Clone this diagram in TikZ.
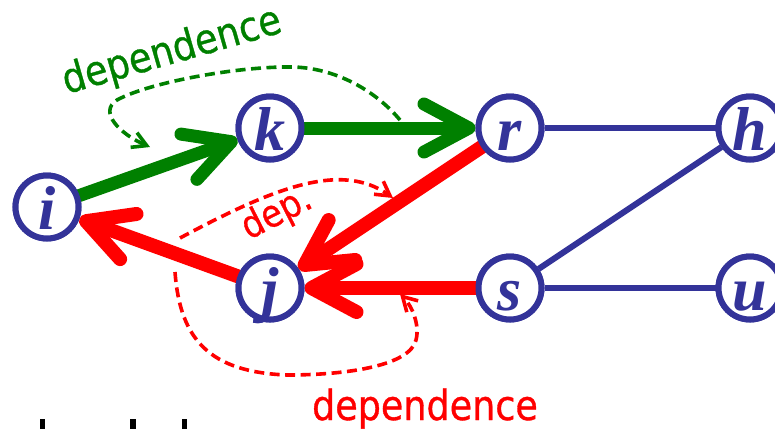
\documentclass[tikz,border=0pt]{standalone}
\usepackage{fontspec}
\setmainfont{Liberation Serif}
\newfontfamily\lblfont{DejaVu Sans}[FakeStretch=0.88, FakeBold=0.8]
\usetikzlibrary{arrows.meta}
\definecolor{nodeblue}{HTML}{333399}
\definecolor{depgreen}{HTML}{008000}
\definecolor{depred}{HTML}{FF0000}
\begin{document}
\begin{tikzpicture}[x=1pt,y=-1pt,
  vertex/.style={circle, draw=nodeblue, line width=6pt, fill=white,
    minimum size=63pt, inner sep=0pt, text=nodeblue,
    text height=45pt, text depth=0pt,
    font=\fontsize{62}{62}\selectfont\bfseries\itshape},
  link/.style={draw=nodeblue, line width=6pt},
  bigarrow/.style={line cap=round, line join=round,
    -{Straight Barb[round, length=45pt, width=48pt]}},
  greenarrow/.style={bigarrow, draw=depgreen, line width=13pt},
  redarrow/.style={bigarrow, draw=depred, line width=14pt},
  deparrow/.style={line width=3.6pt, dash pattern=on 10pt off 5.5pt,
    -{Straight Barb[length=14pt, width=16pt]}},
  deplabel/.style={font=\lblfont\fontsize{41.5}{41.5}\selectfont},
  stub/.style={fill=black}
]
\path[use as bounding box] (0,0) rectangle (775,429);
\clip (0,0) rectangle (775,429);

% vertices
\node[vertex] (i) at (47,207) {i};
\node[vertex] (k) at (270,128) {k};
\node[vertex] (r) at (510,128) {r};
\node[vertex] (h) at (750,128) {h};
\node[vertex] (j) at (270,288) {j};
\node[vertex] (s) at (510,288) {s};
\node[vertex] (u) at (750,288) {u};

% plain edges
\draw[link] (r) -- (h);
\draw[link] (s) -- (h);
\draw[link] (s) -- (u);

% forward path i -> k -> r
\draw[greenarrow] (i) -- (k);
\draw[greenarrow] (k) -- (r);

% backward path r -> j, s -> j, j -> i
\draw[redarrow] (r) -- (j);
\draw[redarrow] (s) -- (j);
\draw[redarrow] (j) -- (i);

% redraw vertices on top of the edges
\node[vertex] at (i) {i};
\node[vertex] at (k) {k};
\node[vertex] at (r) {r};
\node[vertex] at (j) {j};
\node[vertex] at (s) {s};
\node[vertex] at (h) {h};
\node[vertex] at (u) {u};

% dependence curves
\coordinate (gA) at (400,120);
\coordinate (gB) at (293,67);
\coordinate (gC) at (117,100);
\coordinate (gD) at (150,147);
\draw[deparrow, depgreen] (gA) .. controls (375,90) and (335,68) .. (gB)
  .. controls (240,66) and (150,82) .. (gC)
  .. controls (98,112) and (120,134) .. (gD);

\coordinate (rA) at (180,238);
\coordinate (rB) at (393,198);
\draw[deparrow, depred] (rA) .. controls (270,190) and (340,160) .. (rB);

\coordinate (rC) at (175,272);
\coordinate (rD) at (287,375);
\coordinate (rE) at (416,340);
\coordinate (rF) at (400,294);
\draw[deparrow, depred] (rC) .. controls (180,340) and (210,372) .. (rD)
  .. controls (350,375) and (410,365) .. (rE)
  .. controls (420,325) and (412,306) .. (rF);

% labels
\node[deplabel, text=depgreen, rotate=16] (lblA) at (172,52) {dependence};
\node[deplabel, text=depred, rotate=27, font=\lblfont\fontsize{38}{38}\selectfont]
  (lblB) at (277,214) {dep.};
\node[deplabel, text=depred, anchor=base] (lblC) at (425,420) {dependence};

% tops of letters from the next line
\fill[stub] (40,419) rectangle (45,429);
\fill[stub] (130,419) rectangle (136,429);
\fill[stub] (182,419) rectangle (187,429);
\end{tikzpicture}
\end{document}
